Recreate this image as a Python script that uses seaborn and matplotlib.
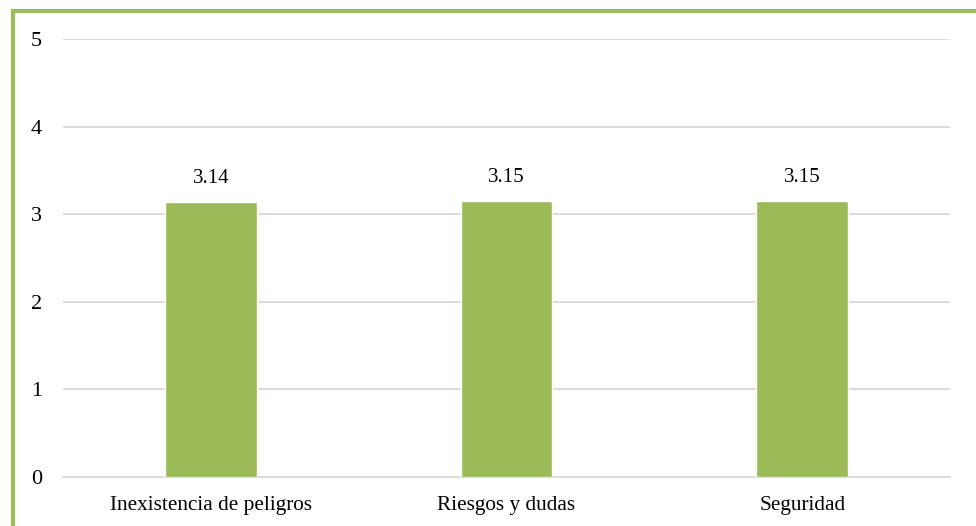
import pandas as pd
import seaborn as sns
import matplotlib.pyplot as plt
from matplotlib.patches import Rectangle

# datos
categorias = ['Inexistencia de peligros', 'Riesgos y dudas', 'Seguridad']
valores = [3.14, 3.15, 3.15]
etiquetas = ['3.14', '3.15', '3.15']

df = pd.DataFrame({'categoria': categorias, 'valor': valores})

sns.set_style('white')
plt.rcParams['font.family'] = ['Liberation Serif', 'DejaVu Serif']

fig = plt.figure(figsize=(9.76, 5.26), dpi=100)
ax = fig.add_axes([0.0645, 0.0932, 0.909, 0.8328])

sns.barplot(x='categoria', y='valor', data=df, color='#9BBB59', width=0.31,
            saturation=1, ax=ax, zorder=3)

# etiquetas de valor
for i, (v, t) in enumerate(zip(valores, etiquetas)):
    ax.text(i, v + 0.27, t, ha='center', va='center', fontsize=15, color='#000000')

ax.set_ylim(0, 5)
ax.set_xlim(-0.5, 2.5)
ax.set_yticks([0, 1, 2, 3, 4, 5])
ax.yaxis.grid(True, color='#D9D9D9', linewidth=1.3, zorder=0)
ax.set_axisbelow(True)
ax.set_xlabel('')
ax.set_ylabel('')

for s in ['top', 'right', 'left']:
    ax.spines[s].set_visible(False)
ax.spines['bottom'].set_color('#D9D9D9')
ax.spines['bottom'].set_linewidth(1.3)

ax.tick_params(axis='y', length=0, pad=15, labelsize=16, labelcolor='black')
ax.tick_params(axis='x', length=0, pad=14, labelsize=15.3, labelcolor='black')

# marco verde
fig.patches.append(Rectangle((12.5 / 976, -0.1), 1.2, (526 - 10.8) / 526 + 0.1,
                             transform=fig.transFigure, fill=False,
                             edgecolor='#9BBB59', linewidth=3, zorder=10))

fig.savefig('out.png', dpi=100)
